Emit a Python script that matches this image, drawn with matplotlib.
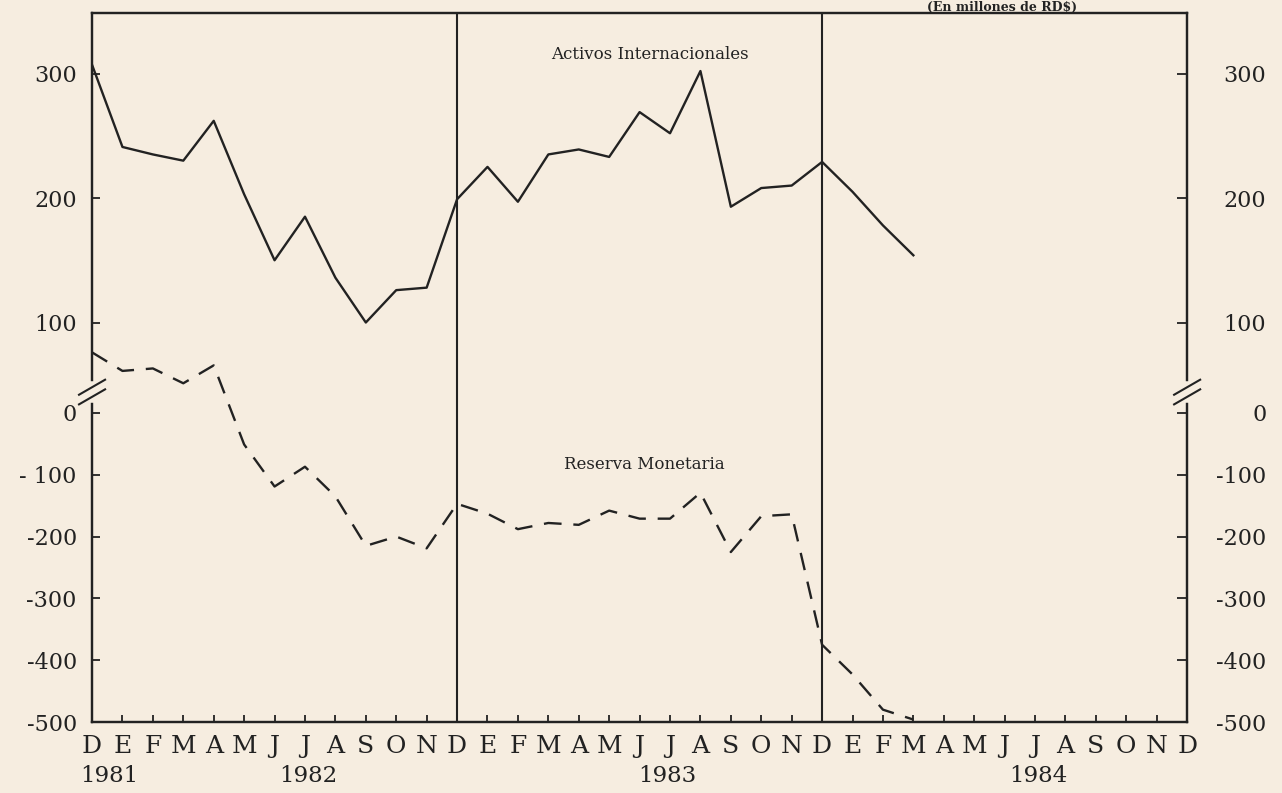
import matplotlib
matplotlib.use('Agg')
import matplotlib.pyplot as plt
import numpy as np

# meses de D 1981 a D 1984
months = ['D', 'E', 'F', 'M', 'A', 'M', 'J', 'J', 'A', 'S', 'O', 'N'] * 3 + ['D']
years = ['1981', '1982', '1983', '1984']

# Activos Internacionales (escala superior), D 1981 - M 1984
activos = [307, 241, 235, 230, 262, 203, 150, 185, 136, 100, 126, 128,
           199, 225, 197, 235, 239, 233, 269, 252, 302, 193, 208, 210,
           229, 205, 178, 154]
# Reserva Monetaria (escala inferior)
reserva = [98, 68, 72, 48, 77, -51, -119, -87, -135, -215, -200, -219,
           -147, -163, -188, -178, -181, -158, -171, -171, -129, -225, -167, -164,
           -375, -423, -480, -496]

upper_ticks = [300, 200, 100]
lower_ticks = [0, -100, -200, -300, -400, -500]
lower_labels = ['0', '- 100', '-200', '-300', '-400', '-500']
right_lower_labels = ['0', '-100', '-200', '-300', '-400', '-500']

plt.rcParams['font.family'] = 'DejaVu Serif'
bg = '#f6ede0'
ink = '#222222'

fig = plt.figure(figsize=(12.82, 7.93), dpi=100, facecolor=bg)
ax = fig.add_axes([0.0718, 0.0895, 0.8542, 0.8941])
ax.set_facecolor(bg)
ax2 = ax.twinx()

ax2.plot(np.arange(len(activos)), activos, color=ink, lw=1.7)
ax.plot(np.arange(len(reserva)), reserva, color=ink, lw=1.7, ls=(0, (7.5, 5)))

ax.set_xlim(0, 36)
ax.set_ylim(-500, 647)
ax2.set_ylim(-220.9, 348.6)

ax.axvline(12, color=ink, lw=1.5)
ax.axvline(24, color=ink, lw=1.5)

for a in (ax, ax2):
    for s in a.spines.values():
        s.set_linewidth(1.6)
        s.set_color(ink)

ax.set_xticks(range(len(months)))
ax.set_xticklabels(months, fontsize=18)
ax.tick_params(axis='x', direction='in', length=5, width=1.3, pad=9, colors=ink)

ax.set_yticks(lower_ticks)
ax.set_yticklabels(lower_labels, fontsize=16)
ax.tick_params(axis='y', direction='in', length=6, width=1.3, pad=11,
               left=True, right=False, labelleft=True, labelright=False, colors=ink)

ax2.set_yticks(upper_ticks)
ax2.set_yticklabels([str(t) for t in upper_ticks], fontsize=16)
ax2.tick_params(axis='y', direction='in', length=6, width=1.3, pad=11,
                left=True, right=False, labelleft=True, labelright=False, colors=ink)

# etiquetas del lado derecho, alineadas a la derecha
for a, ticks, labels in ((ax, lower_ticks, right_lower_labels),
                         (ax2, upper_ticks, [str(t) for t in upper_ticks])):
    sec = a.secondary_yaxis('right')
    sec.spines['right'].set_visible(False)
    sec.set_yticks(ticks)
    sec.set_yticklabels(labels, fontsize=16)
    sec.tick_params(direction='in', length=7, width=1.3, pad=57, colors=ink)
    for lab in sec.get_yticklabels():
        lab.set_horizontalalignment('right')

# marcas de corte del eje
yb = 0.4654
for xs in (0, 1):
    ax2.plot([xs, xs], [yb - 0.011, yb + 0.011], color=bg, lw=4,
             transform=ax2.transAxes, clip_on=False, zorder=10)
    for off in (-0.0068, 0.0068):
        ax2.plot([xs - 0.0119, xs + 0.0119], [yb + off - 0.0106, yb + off + 0.0106],
                 color=ink, lw=1.5, transform=ax2.transAxes, clip_on=False, zorder=11)

for yr, xp in zip(years, [0.55, 7.1, 18.9, 31.1]):
    ax.text(xp, -0.076, yr, transform=ax.get_xaxis_transform(), ha='center',
            va='center', fontsize=16.5, color=ink)

ax2.text(18.35, 315, 'Activos Internacionales', ha='center', va='center',
         fontsize=12, color=ink)
ax.text(18.15, -84, 'Reserva Monetaria', ha='center', va='center',
        fontsize=12, color=ink)

fig.text(0.782, 0.999, '(En millones de RD$)', ha='center', va='top',
         fontsize=9, fontweight='bold', color=ink)

plt.savefig('out.png', dpi=100, facecolor=bg)
